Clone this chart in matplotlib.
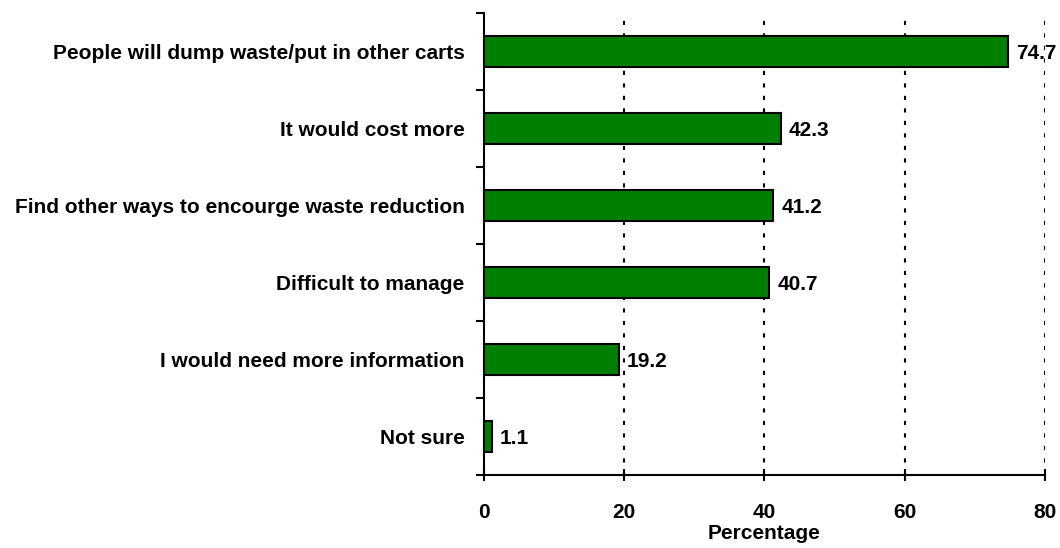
import numpy as np
import matplotlib
matplotlib.use("Agg")
import matplotlib.pyplot as plt

plt.rcParams.update({"font.family": ["Liberation Sans", "DejaVu Sans"],
                     "font.weight": "bold", "font.size": 15})

categories = ["People will dump waste/put in other carts",
              "It would cost more",
              "Find other ways to encourge waste reduction",
              "Difficult to manage",
              "I would need more information",
              "Not sure"]
values = [74.7, 42.3, 41.2, 40.7, 19.2, 1.1]
xticks = [0, 20, 40, 60, 80]

fig = plt.figure(figsize=(10.6, 5.48), dpi=100)
ax = fig.add_axes([0.4566, 0.1332, 0.5292, 0.8431])

y = np.arange(len(categories))
ax.barh(y, values, height=0.4, color="#007F00", edgecolor="black", linewidth=1.5, zorder=3)
for yi, v in zip(y, values):
    ax.annotate(f"{v:.1f}", xy=(v, yi), xytext=(6, 0), textcoords="offset points",
                va="center_baseline", ha="left", fontweight="bold", zorder=4)

ax.set_xlim(0, 80)
ax.set_ylim(len(categories) - 0.5, -0.5)
ax.set_xticks(xticks)
ax.set_yticks(y)
ax.set_yticklabels(categories, fontweight="bold")
ax.set_yticks(np.arange(-0.5, len(categories), 1.0), minor=True)
ax.tick_params(axis="y", which="major", length=0, pad=14)
ax.tick_params(axis="y", which="minor", length=6, width=1.5, direction="out")
ax.tick_params(axis="x", length=9, width=1.5, direction="inout", pad=16)
for lbl in ax.get_xticklabels():
    lbl.set_fontweight("bold")

# dotted gridlines, the 80 one runs over the top label like in the original
for xv in xticks[1:]:
    ax.axvline(xv, color="black", linewidth=1.5, linestyle=(0, (2, 4)), zorder=5 if xv == 80 else 1)

for s in ["top", "right"]:
    ax.spines[s].set_visible(False)
for s in ["left", "bottom"]:
    ax.spines[s].set_linewidth(1.5)

ax.set_xlabel("Percentage", fontweight="bold", labelpad=1)

plt.savefig("out.png", dpi=100)
plt.close()
